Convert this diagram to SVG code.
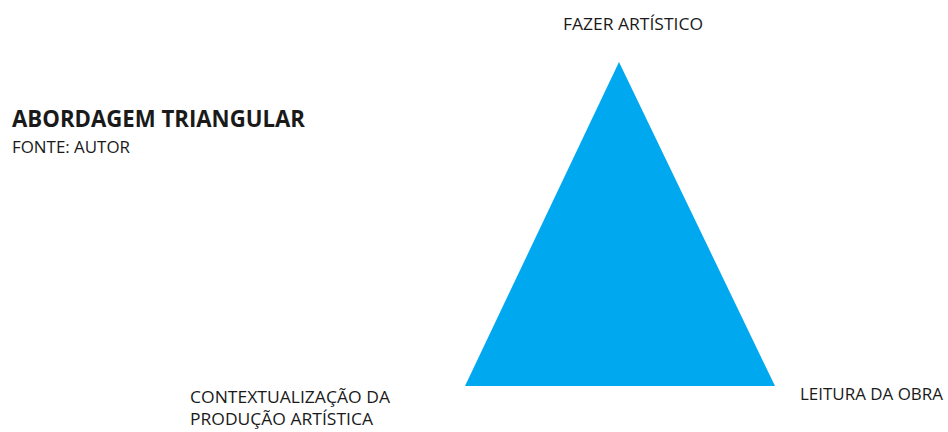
<svg xmlns="http://www.w3.org/2000/svg" width="948" height="432" viewBox="0 0 948 432">
<style>
text{font-family:"Open Sans","Noto Sans",sans-serif;fill:#1a1a1a;font-size:17px}
.t{font-weight:bold;font-size:24px}
</style>
<rect width="948" height="432" fill="#fff"/>
<g id="title">
<text class="t" x="12" y="127" textLength="293" lengthAdjust="spacingAndGlyphs">ABORDAGEM TRIANGULAR</text>
<text x="12" y="153" textLength="118" lengthAdjust="spacingAndGlyphs">FONTE: AUTOR</text>
</g>
<g id="triangle">
<polygon points="619,62 465,386 775,386" fill="#00A8F0"/>
</g>
<g id="fazer">
<text x="563" y="30" textLength="140" lengthAdjust="spacingAndGlyphs">FAZER ARTÍSTICO</text>
</g>
<g id="contexto">
<text x="190" y="403" textLength="200" lengthAdjust="spacingAndGlyphs">CONTEXTUALIZAÇÃO DA</text>
<text x="190" y="425" textLength="183" lengthAdjust="spacingAndGlyphs">PRODUÇÃO ARTÍSTICA</text>
</g>
<g id="leitura">
<text x="800" y="400" textLength="143" lengthAdjust="spacingAndGlyphs">LEITURA DA OBRA</text>
</g>
<g id="connectors"></g>
</svg>
